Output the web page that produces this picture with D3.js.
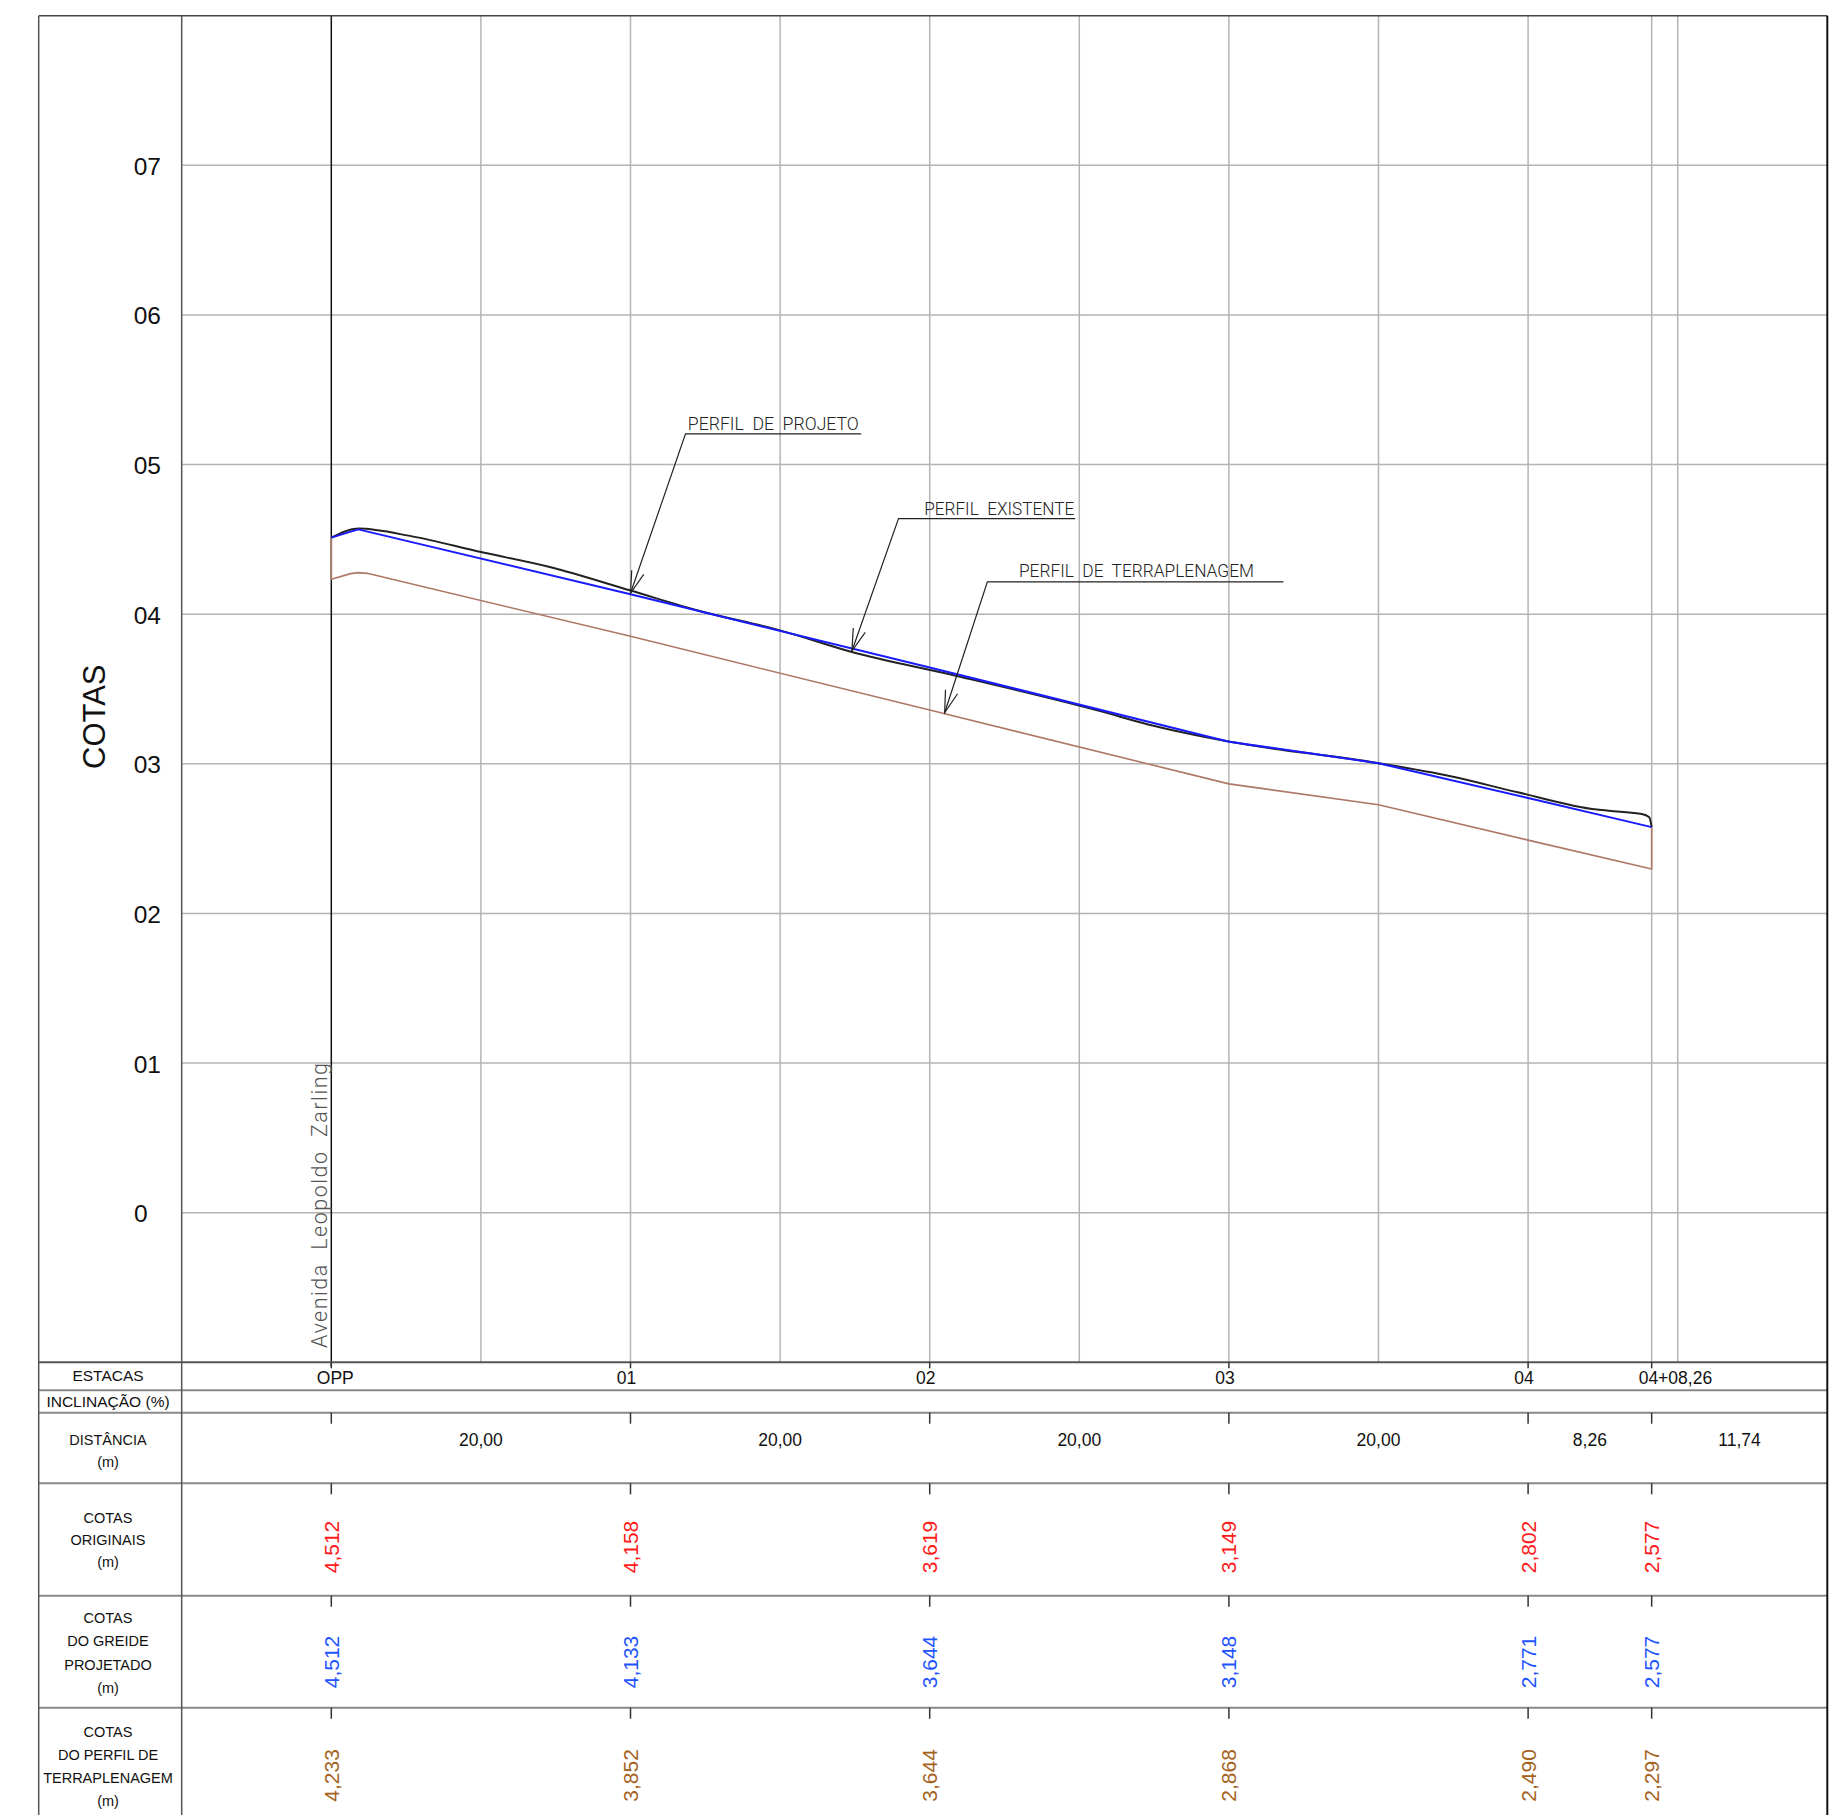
<!DOCTYPE html>
<html><head><meta charset="utf-8">
<script src="https://cdn.jsdelivr.net/npm/d3@7"></script>
<style>body{margin:0;background:#fff}svg{display:block}</style>
</head><body>
<script>
// ---------- DATA ----------
const stationNames = ["OPP","01","02","03","04","04+08,26"];
const stationDist = [0,20,40,60,80,88.26];
const distanceLabels = ["20,00","20,00","20,00","20,00","8,26","11,74"];
const cotasOriginais = ["4,512","4,158","3,619","3,149","2,802","2,577"];
const cotasGreide = ["4,512","4,133","3,644","3,148","2,771","2,577"];
const cotasTerraplenagem = ["4,233","3,852","3,644","2,868","2,490","2,297"];
const yTickValues = [7,6,5,4,3,2,1,0];
const yTickLabels = ["07","06","05","04","03","02","01","0"];
const gridDist = [10,20,30,40,50,60,70,80,88.26,90];

const projetoDist = [0,1.8,20,40,60,70,80,88.26];
const projetoCota = [4.512,4.567,4.133,3.644,3.148,3.004,2.771,2.577];

const existenteDist = [0,1.8,5.4,10,14.6,20,24.5,30,34.8,41.6,51.4,54.6,60,70,74.9,79.3,84.6,85.7,87.6,88.1,88.26];
const existenteCota = [4.512,4.572,4.520,4.415,4.315,4.158,4.025,3.892,3.747,3.592,3.352,3.263,3.149,3.004,2.915,2.810,2.694,2.683,2.665,2.643,2.577];

const terraDist = [0,0,1.3,1.8,2.4,20,40,60,70,80,88.26,88.26];
const terraCota = [4.512,4.233,4.271,4.278,4.273,3.852,3.359,2.866,2.726,2.490,2.297,2.577];

const rowLabels = [["ESTACAS"],["INCLINAÇÃO (%)"],["DISTÂNCIA","(m)"],["COTAS","ORIGINAIS","(m)"],["COTAS","DO GREIDE","PROJETADO","(m)"],["COTAS","DO PERFIL DE","TERRAPLENAGEM","(m)"]];
const annotationTexts = ["PERFIL  DE  PROJETO","PERFIL  EXISTENTE","PERFIL  DE  TERRAPLENAGEM"];
const streetName = "Avenida  Leopoldo  Zarling";

// ---------- LAYOUT ----------
const W = 1845, H = 1815;
const svg = d3.select("body").append("svg").attr("width", W).attr("height", H);
const x = d3.scaleLinear().domain([-10, 100]).range([181.7, 1827.3]);
const y = d3.scaleLinear().domain([-1, 8]).range([1362.3, 15.7]);
const FONT = "'Liberation Sans', Arial, sans-serif";
const frameL = 38.7, frameR = x(100), frameT = y(8), chartB = y(-1);
const rowTops = [1362.3, 1390.3, 1412.7, 1483.3, 1595.7, 1707.7];

// grid
const g = svg.append("g");
g.selectAll(".vg").data(gridDist).join("line")
  .attr("x1", d => x(d)).attr("x2", d => x(d))
  .attr("y1", frameT).attr("y2", chartB)
  .attr("stroke", "#b4b4b4").attr("stroke-width", 1.5);
g.selectAll(".hg").data(yTickValues).join("line")
  .attr("x1", x(-10)).attr("x2", frameR)
  .attr("y1", d => y(d)).attr("y2", d => y(d))
  .attr("stroke", "#b4b4b4").attr("stroke-width", 1.5);

// OPP line
svg.append("line").attr("x1", x(0)).attr("x2", x(0)).attr("y1", frameT).attr("y2", chartB + 4)
  .attr("stroke", "#111").attr("stroke-width", 1.5);

// y tick labels
svg.selectAll(".yl").data(yTickValues).join("text")
  .attr("x", (d, i) => yTickLabels[i].length > 1 ? 161 : 134)
  .attr("y", d => y(d) + 9.5)
  .attr("text-anchor", (d, i) => yTickLabels[i].length > 1 ? "end" : "start")
  .attr("font-family", FONT).attr("font-size", 24.5).attr("fill", "#111")
  .text((d, i) => yTickLabels[i]);

// COTAS title
svg.append("text").attr("transform", "translate(105,716.7) rotate(-90)")
  .attr("text-anchor", "middle").attr("font-family", FONT).attr("font-size", 31).attr("fill", "#111")
  .text("COTAS");

// street name
svg.append("text").attr("transform", `translate(${x(0) - 4},1348) rotate(-90)`)
  .attr("font-family", "Roboto, 'DejaVu Sans', sans-serif").attr("font-weight", 300)
  .attr("font-size", 21.5).attr("fill", "#555").style("white-space", "pre")
  .attr("textLength", 285).attr("lengthAdjust", "spacing")
  .text(streetName);

// profile lines
const line = d3.line().x(d => x(d[0])).y(d => y(d[1]));
const terra = terraDist.map((d, i) => [d, terraCota[i]]);
const exist = existenteDist.map((d, i) => [d, existenteCota[i]]);
const proj = projetoDist.map((d, i) => [d, projetoCota[i]]);
svg.append("path").datum(terra).attr("d", line).attr("fill", "none")
  .attr("stroke", "#ad7866").attr("stroke-width", 1.6).attr("stroke-linejoin", "round");
svg.append("path").datum(exist).attr("d", line.curve(d3.curveMonotoneX)).attr("fill", "none")
  .attr("stroke", "#222").attr("stroke-width", 2).attr("stroke-linejoin", "round");
line.curve(d3.curveLinear);
svg.append("path").datum(proj).attr("d", line).attr("fill", "none")
  .attr("stroke", "#1a1aff").attr("stroke-width", 2).attr("stroke-linejoin", "round");

// annotations
function interp(arr, d) {
  for (let i = 1; i < arr.length; i++) {
    if (arr[i][0] >= d && arr[i][0] > arr[i-1][0]) {
      const t = (d - arr[i-1][0]) / (arr[i][0] - arr[i-1][0]);
      return arr[i-1][1] + t * (arr[i][1] - arr[i-1][1]);
    }
  }
  return arr[arr.length - 1][1];
}
const annLayout = [
  {series: proj, at: 20, dx: 55, dy: -159.4, tx: 2.3, ty: -4.3, tw: 171, ul: 175.7},
  {series: exist, at: 34.8, dx: 46.6, dy: -132.4, tx: 25.7, ty: -3.3, tw: 150, ul: 176.7},
  {series: terra, at: 41, dx: 42.7, dy: -131, tx: 31.6, ty: -5, tw: 235, ul: 296}
];
annLayout.forEach((a, i) => {
  const tx = x(a.at), ty = y(interp(a.series, a.at)) - 1;
  const ex = tx + a.dx, ey = ty + a.dy;
  const ag = svg.append("g").attr("stroke", "#222").attr("stroke-width", 1.2).attr("fill", "none");
  ag.append("path").attr("d", `M${ex + a.ul},${ey}H${ex}L${tx},${ty}`);
  const ang = Math.atan2(ey - ty, ex - tx), L = 23, sp = 16 * Math.PI / 180;
  ag.append("path").attr("d",
    `M${tx + L * Math.cos(ang - sp)},${ty + L * Math.sin(ang - sp)}L${tx},${ty}L${tx + L * Math.cos(ang + sp)},${ty + L * Math.sin(ang + sp)}`);
  svg.append("text").attr("x", ex + a.tx).attr("y", ey + a.ty)
    .attr("font-family", "Roboto, 'DejaVu Sans', sans-serif").attr("font-weight", 300)
    .attr("font-size", 18).attr("fill", "#222").style("white-space", "pre")
    .attr("textLength", a.tw).attr("lengthAdjust", "spacingAndGlyphs")
    .text(annotationTexts[i]);
});

// table row lines
svg.selectAll(".row").data(rowTops).join("line")
  .attr("x1", frameL).attr("x2", frameR)
  .attr("y1", d => d).attr("y2", d => d)
  .attr("stroke", (d, i) => i === 0 ? "#555" : "#888").attr("stroke-width", 2);

// frame
svg.append("line").attr("x1", frameL).attr("x2", frameR).attr("y1", frameT).attr("y2", frameT)
  .attr("stroke", "#444").attr("stroke-width", 1.5);
svg.append("line").attr("x1", frameL).attr("x2", frameL).attr("y1", frameT).attr("y2", H)
  .attr("stroke", "#555").attr("stroke-width", 1.5);
svg.append("line").attr("x1", x(-10)).attr("x2", x(-10)).attr("y1", frameT).attr("y2", H)
  .attr("stroke", "#555").attr("stroke-width", 1.5);
svg.append("line").attr("x1", frameR).attr("x2", frameR).attr("y1", frameT).attr("y2", H)
  .attr("stroke", "#111").attr("stroke-width", 2);

// row labels
const labelLayout = [
  {first: 19, step: 0, size: 15.5}, {first: 16.6, step: 0, size: 15.5}, {first: 32.3, step: 21.7, size: 14.5},
  {first: 40, step: 21.7, size: 14.5}, {first: 27.6, step: 23.1, size: 14.5}, {first: 29, step: 23, size: 14.5}
];
rowLabels.forEach((lines, r) => {
  lines.forEach((t, k) => {
    svg.append("text").attr("x", 108).attr("y", rowTops[r] + labelLayout[r].first + k * labelLayout[r].step)
      .attr("text-anchor", "middle").attr("font-family", FONT).attr("font-size", labelLayout[r].size).attr("fill", "#111")
      .text(t);
  });
});

// ticks in table
[0, 2, 3, 4, 5].forEach(r => {
  const len = r === 0 ? 6 : 11;
  svg.selectAll(null).data(stationDist).join("line")
    .attr("x1", d => x(d)).attr("x2", d => x(d))
    .attr("y1", rowTops[r]).attr("y2", rowTops[r] + len)
    .attr("stroke", "#333").attr("stroke-width", 1.5);
});

// station labels
svg.selectAll(".st").data(stationDist).join("text")
  .attr("x", (d, i) => x(d) + (i === 0 ? 4 : i === stationDist.length - 1 ? -13 : -4))
  .attr("y", 1384.3)
  .attr("text-anchor", (d, i) => i === stationDist.length - 1 ? "start" : "middle")
  .attr("font-family", FONT).attr("font-size", 17.5).attr("fill", "#111")
  .text((d, i) => stationNames[i]);

// distance labels
const bounds = stationDist.concat([x.domain()[1]]);
svg.selectAll(".dl").data(distanceLabels).join("text")
  .attr("x", (d, i) => x((bounds[i] + bounds[i + 1]) / 2)).attr("y", 1446)
  .attr("text-anchor", "middle").attr("font-family", FONT).attr("font-size", 17.5).attr("fill", "#111")
  .text(d => d);

// rotated values
const valueRows = [
  {vals: cotasOriginais, row: 3, off: 90, color: "#ff1a1a"},
  {vals: cotasGreide, row: 4, off: 92.6, color: "#1f55ff"},
  {vals: cotasTerraplenagem, row: 5, off: 94, color: "#a5631e"}
];
valueRows.forEach(vr => {
  svg.selectAll(null).data(vr.vals).join("text")
    .attr("transform", (d, i) => `translate(${x(stationDist[i]) + 7.5},${rowTops[vr.row] + vr.off}) rotate(-90)`)
    .attr("font-family", FONT).attr("font-size", 21).attr("fill", vr.color)
    .text(d => d);
});
</script>
</body></html>
